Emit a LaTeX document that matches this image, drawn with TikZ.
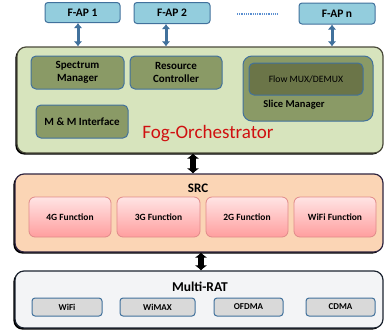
\documentclass[tikz,border=0pt]{standalone}
\usepackage{fontspec}
\setmainfont{Carlito}
\usetikzlibrary{shadows,arrows.meta}
\definecolor{apfill}{HTML}{93CDDD}
\definecolor{bluebd}{HTML}{41719C}
\definecolor{fogfill}{HTML}{D7E4BD}
\definecolor{fogbd}{HTML}{4A4A3A}
\definecolor{olive}{HTML}{8A9A66}
\definecolor{darkolive}{HTML}{6B7548}
\definecolor{srcfill}{HTML}{FBD5B5}
\definecolor{srcbd}{HTML}{2F2540}
\definecolor{pinktop}{HTML}{FFE4E4}
\definecolor{pinkbot}{HTML}{FF9E9E}
\definecolor{pinkbd}{HTML}{E08A8A}
\definecolor{ratfill}{HTML}{F3F4F6}
\definecolor{ratbd}{HTML}{1C2430}
\definecolor{subfill}{HTML}{D9D9D9}
\definecolor{fogred}{HTML}{D01010}
\definecolor{dotblue}{HTML}{5B8FD0}
\tikzset{
  x=1pt,y=-1pt,
  apbox/.style={draw=bluebd,line width=1pt,fill=apfill,rounded corners=3pt,inner sep=0pt,font=\bfseries\fontsize{11.5}{12}\selectfont},
  bigbox/.style={line width=1.2pt,rounded corners=9pt,inner sep=0pt,
     drop shadow={shadow xshift=-1.6pt,shadow yshift=-1.6pt,opacity=1,fill=black}},
  greenbox/.style={draw=bluebd,line width=1pt,fill=olive,rounded corners=5pt,inner sep=0pt,align=center,font=\bfseries\fontsize{11}{13}\selectfont},
  funcbox/.style={draw=pinkbd,line width=0.8pt,top color=pinktop,bottom color=pinkbot,rounded corners=6pt,inner sep=0pt,minimum width=82pt,minimum height=40pt,font=\bfseries\fontsize{9.5}{10}\selectfont},
  ratsub/.style={draw=bluebd,line width=1pt,fill=subfill,rounded corners=3pt,inner sep=0pt,minimum height=18pt,font=\bfseries\fontsize{9}{10}\selectfont},
  bluearrow/.style={draw=bluebd,line width=3pt,{Latex[length=5pt,width=8.5pt]}-{Latex[length=5pt,width=8.5pt]}},
  fatarrow/.style={draw=black,line width=6.5pt,{Latex[length=5pt,width=13pt]}-{Latex[length=5pt,width=13pt]}},
}
\begin{document}
\begin{tikzpicture}
\useasboundingbox (0,0) rectangle (385,330);
% F-APs
\node[apbox,minimum width=75pt,minimum height=20pt] (f1) at (82.5,12.5) {F-AP 1};
\node[apbox,minimum width=76pt,minimum height=21pt] (f2) at (172,13) {F-AP 2};
\node[apbox,minimum width=76pt,minimum height=21pt] (fn) at (337,13.5) {F-AP n};
\coordinate (d1) at (237,14);
\coordinate (d2) at (277,14);
\draw[dotblue,line width=1.2pt,dash pattern=on 1pt off 0.8pt] (d1) -- (d2);
% Fog orchestrator
\node[bigbox,draw=fogbd,fill=fogfill,minimum width=366pt,minimum height=106pt] (fog) at (200,100) {};
\node[greenbox,minimum width=93pt,minimum height=33pt] (spec) at (77.5,72.5) {Spectrum\\Manager};
\node[greenbox,minimum width=92pt,minimum height=33pt] (res) at (176,72.5) {Resource\\Controller};
\node[greenbox,minimum width=130pt,minimum height=65pt,rounded corners=9pt] (slice) at (308,88.5) {};
\node[greenbox,fill=darkolive,minimum width=114pt,minimum height=32pt,font=\fontsize{9.7}{11}\selectfont] (flow) at (306,79) {Flow MUX/DEMUX};
\node[font=\bfseries\fontsize{10.5}{12}\selectfont,inner sep=0pt] (slicet) at (294,105) {Slice Manager};
\node[greenbox,minimum width=92pt,minimum height=33pt] (mm) at (82,121.5) {M \& M Interface};
\node[text=fogred,font=\fontsize{19}{21}\selectfont,inner sep=0pt] (fogt) at (208,134) {Fog-Orchestrator};
% arrows F-AP
\draw[bluearrow] ([xshift=-4.5pt]f1.south) -- ([xshift=-4.5pt]f1.south |- fog.north);
\draw[bluearrow] ([xshift=-6pt]f2.south) -- ([xshift=-6pt]f2.south |- fog.north);
\draw[bluearrow] ([xshift=-5pt]fn.south) -- ([xshift=-5pt]fn.south |- fog.north);
% SRC
\node[bigbox,draw=srcbd,fill=srcfill,minimum width=368pt,minimum height=78pt] (src) at (199,213) {};
\node[font=\bfseries\fontsize{13}{14}\selectfont,inner sep=0pt] (srct) at (198,188) {SRC};
\node[funcbox] (g4) at (70,217) {4G Function};
\node[funcbox,minimum width=83pt] (g3) at (158.5,217) {3G Function};
\node[funcbox] (g2) at (247,217) {2G Function};
\node[funcbox] (wf) at (335,217) {WiFi Function};
% Multi-RAT
\node[bigbox,draw=ratbd,fill=ratfill,minimum width=368pt,minimum height=57pt] (rat) at (199,299.5) {};
\node[font=\bfseries\fontsize{13.5}{15}\selectfont,inner sep=0pt] (ratt) at (200,287) {Multi-RAT};
\node[ratsub,minimum width=70pt] (r1) at (67,307) {WiFi};
\node[ratsub,minimum width=75pt] (r2) at (157.5,307) {WiMAX};
\node[ratsub,minimum width=69pt] (r3) at (248.5,307) {OFDMA};
\node[ratsub,minimum width=69pt] (r4) at (340.5,307) {CDMA};
% fat arrows
\draw[fatarrow] ([xshift=-7pt]fog.south) -- ([xshift=-7pt]fog.south |- src.north);
\draw[fatarrow] ([xshift=2pt]src.south) -- ([xshift=2pt]src.south |- rat.north);
\end{tikzpicture}
\end{document}
